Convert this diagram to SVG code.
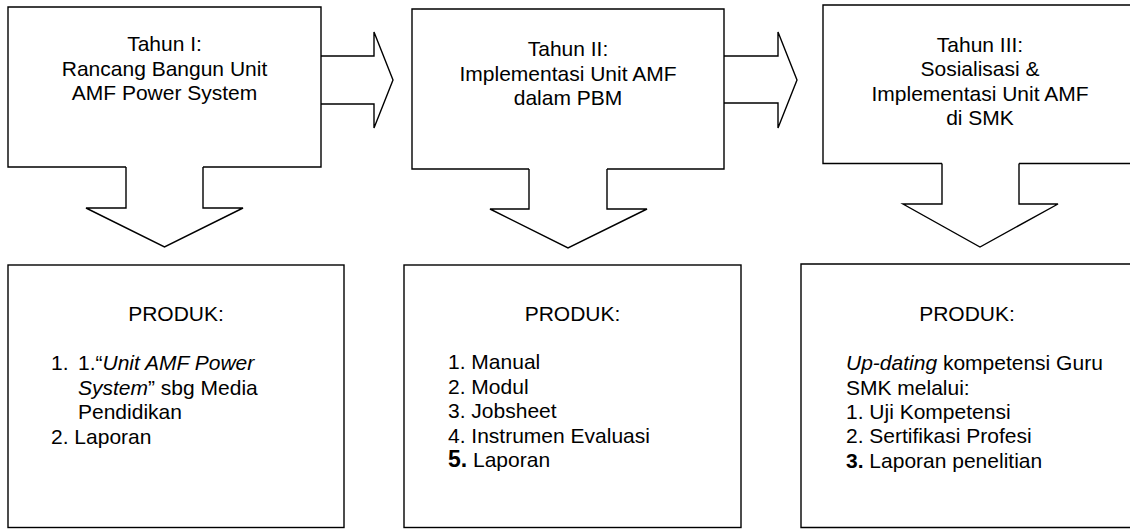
<svg xmlns="http://www.w3.org/2000/svg" width="1130" height="529" viewBox="0 0 1130 529">
<style>
.shape{fill:#fff;stroke:#000;stroke-width:1.4;stroke-linejoin:miter}
.open{fill:none;stroke:#000;stroke-width:1.4}
text{font-family:"Liberation Sans",Arial,Helvetica,sans-serif;font-size:21px;fill:#000}
.c{text-anchor:middle}
.i{font-style:italic}
.b{font-weight:bold}
</style>
<rect width="1130" height="529" fill="#fff"/>
<g id="connectors">
  <path id="arrow-right-1" class="shape" d="M321,56 H374 V32 L393,80 L374,128 V104 H321"/>
  <path id="arrow-right-2" class="shape" d="M724,56 H778 V32 L797,80 L778,128 V103 H724"/>
  <path id="arrow-down-1" class="open" d="M126,167 V208 H86 L164.5,247 L243,208 H203 V167"/>
  <path id="arrow-down-2" class="open" d="M529,169 V209 H490 L568,248 L647,209 H607 V169"/>
  <path id="arrow-down-3" class="open" d="M942,163.5 V204 H903 L980,247 L1058,204 H1019 V163.5"/>
</g>
<g id="tahun1">
  <path class="open" d="M126,167 H8 V7 H321 V167 H203"/>
  <text class="c" x="164.5" y="51">Tahun I:</text>
  <text class="c" x="164.5" y="75.5">Rancang Bangun Unit</text>
  <text class="c" x="164.5" y="100">AMF Power System</text>
</g>
<g id="tahun2">
  <path class="open" d="M529,169 H412 V9 H724 V169 H607"/>
  <text class="c" x="568" y="56">Tahun II:</text>
  <text class="c" x="568" y="80.5">Implementasi Unit AMF</text>
  <text class="c" x="568" y="105">dalam PBM</text>
</g>
<g id="tahun3">
  <path class="open" d="M942,163.5 H823 V5 H1140 M1140,163.5 H1019"/>
  <text class="c" x="980" y="51.5">Tahun III:</text>
  <text class="c" x="980" y="76">Sosialisasi &amp;</text>
  <text class="c" x="980" y="100.5">Implementasi Unit AMF</text>
  <text class="c" x="980" y="125">di SMK</text>
</g>
<g id="produk1">
  <rect class="shape" x="8" y="265" width="336" height="262.5"/>
  <text class="c" x="176" y="321">PRODUK:</text>
  <text x="51" y="370">1.</text>
  <text x="78" y="370">1.“<tspan class="i">Unit AMF Power</tspan></text>
  <text x="78" y="394.5"><tspan class="i">System</tspan>” sbg Media</text>
  <text x="78" y="419">Pendidikan</text>
  <text x="51" y="443.5">2. Laporan</text>
</g>
<g id="produk2">
  <rect class="shape" x="404" y="265" width="337" height="262.5"/>
  <text class="c" x="572.5" y="321">PRODUK:</text>
  <text x="448" y="369">1. Manual</text>
  <text x="448" y="393.5">2. Modul</text>
  <text x="448" y="418">3. Jobsheet</text>
  <text x="448" y="442.5">4. Instrumen Evaluasi</text>
  <text x="448" y="467"><tspan class="b" font-size="23">5.</tspan><tspan x="473">Laporan</tspan></text>
</g>
<g id="produk3">
  <path class="open" d="M1140,264 H801 V527.5 H1140"/>
  <text class="c" x="967" y="321">PRODUK:</text>
  <text x="846" y="370"><tspan class="i">Up-dating</tspan> kompetensi Guru</text>
  <text x="846" y="394.5">SMK melalui:</text>
  <text x="846" y="418.5">1. Uji Kompetensi</text>
  <text x="846" y="443">2. Sertifikasi Profesi</text>
  <text x="846" y="467.5"><tspan class="b">3.</tspan> Laporan penelitian</text>
</g>
</svg>
